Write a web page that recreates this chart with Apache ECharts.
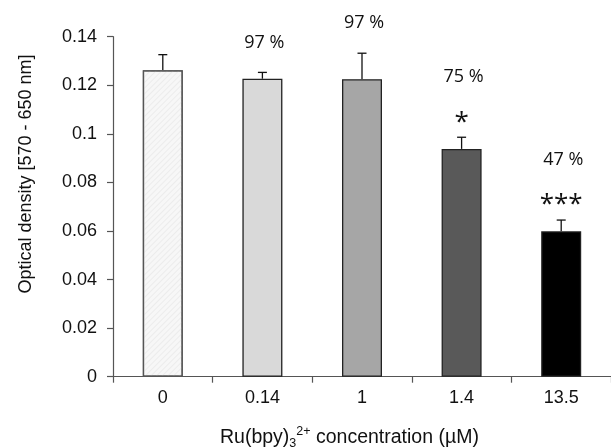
<!DOCTYPE html>
<html>
<head>
<meta charset="utf-8">
<script src="https://cdn.jsdelivr.net/npm/echarts@6/dist/echarts.min.js"></script>
<style>html,body{margin:0;padding:0;background:#fff;}#c{width:611px;height:447px;}</style>
</head>
<body>
<div id="c"></div>
<script>
const categories = ['0', '0.14', '1', '1.4', '13.5'];
const means = [0.1262, 0.1227, 0.1225, 0.0938, 0.0599];
const errors = [0.0064, 0.0026, 0.0107, 0.0048, 0.0046];
const percentLabels = ['', '97 %', '97 %', '75 %', '47 %'];
const signifLabels = ['', '', '', '*', '***'];
const barColors = ['#f7f7f7', '#d9d9d9', '#a6a6a6', '#595959', '#000000'];
const yTicks = [0, 0.02, 0.04, 0.06, 0.08, 0.1, 0.12, 0.14];

const chart = echarts.init(document.getElementById('c'), null, {renderer: 'canvas'});
const axisFont = 'Liberation Sans, Arial, sans-serif';
const annFont = 'Open Sans, sans-serif';

const option = {
  animation: false,
  backgroundColor: '#ffffff',
  grid: {left: 113, right: -8.5, top: 36.7, bottom: 70.3, containLabel: false},
  xAxis: {
    type: 'category',
    data: categories,
    axisLine: {lineStyle: {color: '#555555', width: 1.2}},
    axisTick: {show: true, length: 6, lineStyle: {color: '#555555', width: 1.2}},
    axisLabel: {color: '#111111', fontFamily: axisFont, fontSize: 18, margin: 12}
  },
  yAxis: {
    type: 'value',
    min: yTicks[0], max: yTicks[yTicks.length - 1], interval: 0.02,
    splitLine: {show: false},
    axisLine: {show: true, lineStyle: {color: '#555555', width: 1.2}},
    axisTick: {show: true, length: 6, lineStyle: {color: '#555555', width: 1.2}},
    axisLabel: {color: '#111111', fontFamily: axisFont, fontSize: 18, margin: 16,
      formatter: function (v) { return String(parseFloat(v.toFixed(2))); }}
  },
  graphic: [
    {type: 'text', x: 26, y: 174, rotation: Math.PI / 2,
      style: {text: 'Optical density [570 - 650 nm]', font: '18px ' + axisFont, fill: '#111111',
        align: 'center', verticalAlign: 'middle'}},
    {type: 'text', x: 220, y: 438,
      style: {
        text: '{n|Ru(bpy)}{sub|3}{sup|2+}{n| concentration (µM)}',
        align: 'left', verticalAlign: 'middle',
        rich: {
          n: {fontSize: 19.5, fontFamily: axisFont, fill: '#111111', lineHeight: 28, verticalAlign: 'middle'},
          sub: {fontSize: 12.5, fontFamily: axisFont, fill: '#111111', lineHeight: 28, verticalAlign: 'bottom', padding: [0, 0, 2, 0]},
          sup: {fontSize: 12.5, fontFamily: axisFont, fill: '#111111', lineHeight: 28, verticalAlign: 'top', padding: [1, 0, 0, 0]}
        }
      }}
  ],
  series: [
    {
      type: 'bar',
      barWidth: 40,
      data: means.map(function (v, i) {
        const item = {value: v, itemStyle: {color: barColors[i], borderColor: '#222222', borderWidth: 1.3}};
        if (i === 0) {
          item.itemStyle.borderColor = '#555555';
          item.itemStyle.decal = {symbol: 'rect', symbolSize: 1, dashArrayX: [1, 0], dashArrayY: [1, 3], rotation: -Math.PI / 4, color: 'rgba(215,215,215,0.35)'};
        }
        return item;
      })
    },
    {
      type: 'custom',
      clip: false,
      data: means.map(function (v, i) { return [i, v, errors[i]]; }),
      renderItem: function (params, api) {
        const i = api.value(0);
        const base = api.coord([i, api.value(1)]);
        const top = api.coord([i, api.value(1) + api.value(2)]);
        const cx = base[0];
        const children = [
          {type: 'line', shape: {x1: cx, y1: base[1], x2: cx, y2: top[1]}, style: {stroke: '#111111', lineWidth: 1.3}},
          {type: 'line', shape: {x1: cx - 4.5, y1: top[1], x2: cx + 4.5, y2: top[1]}, style: {stroke: '#111111', lineWidth: 1.3}}
        ];
        const sig = signifLabels[i];
        const pct = percentLabels[i];
        if (sig) {
          children.push({type: 'text', x: cx, y: top[1] - 15,
            style: {text: sig, font: '26px ' + annFont, fill: '#111111', align: 'center', verticalAlign: 'middle'}});
        }
        if (pct) {
          children.push({type: 'text', x: cx + 2, y: top[1] - (sig ? 60 : 30),
            style: {text: pct, font: '18px ' + annFont, fill: '#111111', align: 'center', verticalAlign: 'middle'}});
        }
        return {type: 'group', children: children};
      }
    }
  ]
};
chart.setOption(option);
</script>
</body>
</html>
